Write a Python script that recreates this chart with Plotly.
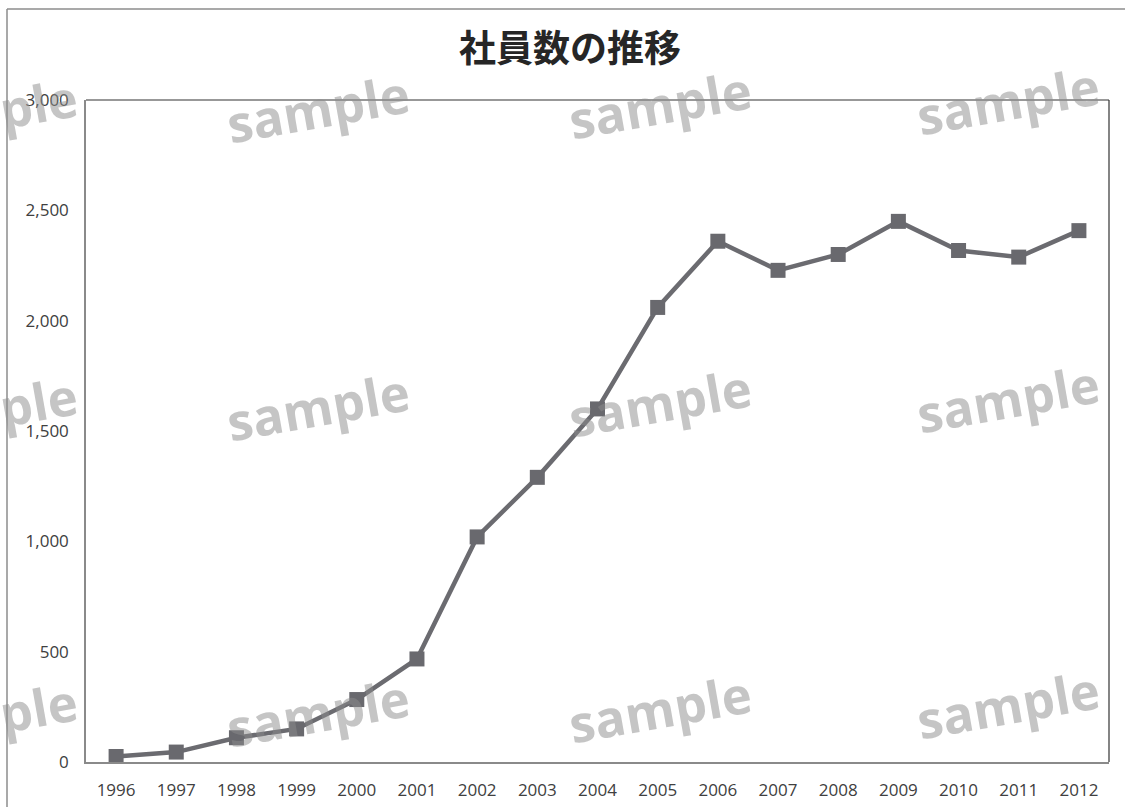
import plotly.graph_objects as go

years = ["1996", "1997", "1998", "1999", "2000", "2001", "2002", "2003", "2004",
         "2005", "2006", "2007", "2008", "2009", "2010", "2011", "2012"]
employees = [25, 45, 110, 150, 283, 467, 1020, 1290, 1600,
             2060, 2360, 2228, 2300, 2450, 2318, 2288, 2408]
y_ticks = [0, 500, 1000, 1500, 2000, 2500, 3000]
y_tick_labels = ["0", "500", "1,000", "1,500", "2,000", "2,500", "3,000"]
title_text = "社員数の推移"
watermark_text = "sample"

W, H = 1125, 807
L, R, T, B = 86, 1109, 100, 762


def px(x):
    return (x - L) / (R - L)


def py(y):
    return (B - y) / (B - T)


fig = go.Figure()
fig.add_trace(go.Scatter(
    x=years, y=employees, mode="lines+markers",
    line=dict(color="#6b6b70", width=4.5),
    marker=dict(symbol="square", size=15, color="#69696e"),
    hoverinfo="x+y", showlegend=False,
))

annotations = []
# watermarks
cols = [-14, 318, 660, 1008]
rows = [108, 406, 712]
for r in rows:
    for i, c in enumerate(cols):
        yy = r + 4 - 4 * i
        annotations.append(dict(
            x=px(c), y=py(yy), xref="paper", yref="paper",
            text=watermark_text, showarrow=False, textangle=-10,
            xanchor="center", yanchor="middle",
            font=dict(family="Open Sans", size=51, color="rgba(140,140,140,0.5)", weight="bold"),
        ))

shapes = [
    # outer chart border (left and top)
    dict(type="line", xref="paper", yref="paper", x0=px(7), x1=px(7), y0=py(830), y1=py(9),
         line=dict(color="#8c8c8c", width=1.5), layer="below"),
    dict(type="line", xref="paper", yref="paper", x0=px(7), x1=px(1140), y0=py(9), y1=py(9),
         line=dict(color="#8c8c8c", width=1.5), layer="below"),
    # plot area top & right border
    dict(type="line", xref="paper", yref="paper", x0=0, x1=1, y0=1, y1=1,
         line=dict(color="#333333", width=1.2), layer="below"),
    dict(type="line", xref="paper", yref="paper", x0=1, x1=1, y0=0, y1=1,
         line=dict(color="#333333", width=1.2), layer="below"),
]

fig.update_layout(
    width=W, height=H,
    margin=dict(l=L, r=W - R, t=T, b=H - B, autoexpand=False),
    paper_bgcolor="white", plot_bgcolor="white",
    title=dict(text=title_text, x=570 / W, xanchor="center", y=1 - 49 / H, yanchor="middle",
               font=dict(family="Noto Sans CJK JP", size=37, color="#262626", weight="bold")),
    xaxis=dict(type="category", range=[-0.5, len(years) - 0.5], showgrid=False,
               showline=True, linecolor="#8a8a8a", linewidth=1.5, ticks="",
               tickfont=dict(family="Open Sans", size=17, color="#404040"),
               ticklabelstandoff=12, zeroline=False, automargin=False),
    yaxis=dict(range=[0, 3000], tickvals=y_ticks, ticktext=y_tick_labels, showgrid=False,
               showline=True, linecolor="#8a8a8a", linewidth=1.5, ticks="",
               tickfont=dict(family="Open Sans", size=17, color="#404040"),
               ticklabelstandoff=12, zeroline=False, automargin=False),
    annotations=annotations,
    shapes=shapes,
)

fig.write_html("out.html")
